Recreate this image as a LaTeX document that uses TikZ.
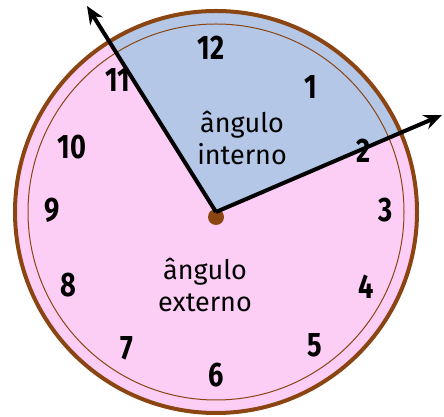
\documentclass[tikz,border=0pt]{standalone}
\usepackage{fontspec}
\setmainfont{Fira Sans}
\newfontfamily\numfont[FakeStretch=0.8]{Fira Sans}
\usetikzlibrary{arrows.meta,positioning}
\definecolor{facepink}{RGB}{252,206,246}
\definecolor{sectorblue}{RGB}{180,199,231}
\definecolor{rimbrown}{RGB}{139,69,19}

\begin{document}
\begin{tikzpicture}[x=0.5pt, y=0.5pt,
    numeral/.style={font=\numfont\fontsize{17}{19}\selectfont\bfseries},
    angletext/.style={align=center, font=\fontsize{13.5}{16}\selectfont},
    hand/.style={line width=2pt, -{Stealth[length=9pt, width=7.5pt]}},
    hub/.style={circle, fill=rimbrown, inner sep=0pt, minimum size=8pt}]
\useasboundingbox (0,0) rectangle (444,417);
\coordinate (o) at (216,205);

% face and inner angle
\fill[facepink] (o) circle (201);
\fill[sectorblue] (o) -- ++(23:201) arc[start angle=23, end angle=122, radius=201] -- cycle;
\draw[rimbrown, line width=0.5pt] (o) circle (188);
\draw[rimbrown, line width=2pt] (o) circle (201);

% hour numbers
\foreach \n/\x/\y in {12/211/369, 1/311/330, 2/364/266, 3/386/207,
                      4/366/130, 5/315/72, 6/216/42, 7/127/69,
                      8/68/132, 9/52/207, 10/72/270, 11/118/337}
  \node[numeral] (h\n) at (\x,\y) {\n};

\node[angletext] (inner) at (242,279) {ângulo\\interno};
\node[angletext] (outer) at (205,132) {ângulo\\externo};

% hands
\node[hub] (c) at (216,200) {};
\coordinate (tipa) at (87,411);
\coordinate (tipb) at (442,302);
\draw[hand] (o) -- (tipa);
\draw[hand] (o) -- (tipb);
\end{tikzpicture}
\end{document}
